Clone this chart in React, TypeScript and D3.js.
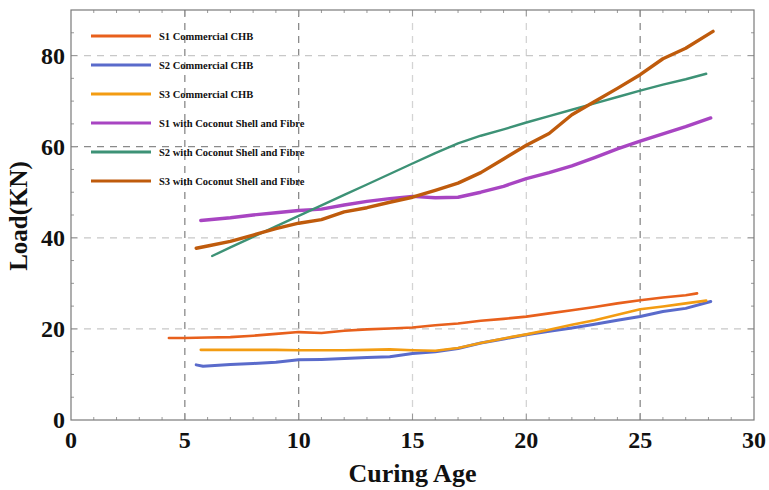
import React from 'react';
import * as d3 from 'd3';

// curing age (x) and load (KN) readings for each specimen
const s1cX = [4.3, 5, 6, 7, 8, 9, 10, 11, 12, 13, 14, 15, 16, 17, 18, 19, 20, 21, 22, 23, 24, 25, 26, 27, 27.5];
const s1cY = [18.0, 18.0, 18.1, 18.2, 18.5, 18.9, 19.3, 19.1, 19.6, 19.9, 20.1, 20.3, 20.8, 21.2, 21.8, 22.2, 22.7, 23.4, 24.1, 24.8, 25.6, 26.3, 26.9, 27.4, 27.8];

const s2cX = [5.5, 5.8, 7, 8, 9, 10, 11, 12, 13, 14, 15, 16, 17, 18, 19, 20, 21, 22, 23, 24, 25, 26, 27, 28.1];
const s2cY = [12.1, 11.8, 12.2, 12.4, 12.7, 13.2, 13.3, 13.5, 13.7, 13.9, 14.6, 15.0, 15.7, 16.9, 17.8, 18.7, 19.5, 20.2, 21.0, 21.9, 22.7, 23.8, 24.5, 26.0];

const s3cX = [5.7, 7, 8, 9, 10, 11, 12, 13, 14, 15, 16, 17, 18, 19, 20, 21, 22, 23, 24, 25, 26, 27, 27.9];
const s3cY = [15.4, 15.4, 15.4, 15.4, 15.3, 15.3, 15.3, 15.4, 15.5, 15.3, 15.2, 15.8, 16.9, 17.9, 18.8, 19.8, 20.9, 21.9, 23.1, 24.3, 24.9, 25.6, 26.2];

const s1fX = [5.7, 7, 8, 9, 10, 11, 12, 13, 14, 15, 16, 17, 18, 19, 20, 21, 22, 23, 24, 25, 26, 27, 28.1];
const s1fY = [43.8, 44.4, 45.0, 45.5, 46.0, 46.3, 47.2, 48.0, 48.6, 49.1, 48.8, 48.9, 50.0, 51.3, 53.0, 54.3, 55.8, 57.6, 59.5, 61.2, 62.8, 64.4, 66.3];

const s2fX = [6.2, 7, 8, 9, 10, 11, 12, 13, 14, 15, 16, 17, 18, 19, 20, 21, 22, 23, 24, 25, 26, 27, 27.9];
const s2fY = [36.0, 37.9, 40.2, 42.5, 44.8, 47.1, 49.4, 51.7, 54.0, 56.3, 58.6, 60.7, 62.4, 63.8, 65.3, 66.7, 68.1, 69.5, 70.9, 72.3, 73.6, 74.8, 76.0];

const s3fX = [5.5, 6, 7, 8, 9, 10, 11, 12, 13, 14, 15, 16, 17, 18, 19, 20, 21, 22, 23, 24, 25, 26, 27, 28.2];
const s3fY = [37.7, 38.2, 39.2, 40.6, 42.0, 43.2, 44.0, 45.7, 46.6, 47.8, 48.9, 50.4, 52.0, 54.3, 57.3, 60.3, 62.9, 67.0, 69.9, 72.8, 75.8, 79.3, 81.6, 85.3];

const seriesNames = [
  'S1 Commercial CHB',
  'S2 Commercial CHB',
  'S3 Commercial CHB',
  'S1 with Coconut Shell and Fibre',
  'S2 with Coconut Shell and Fibre',
  'S3 with Coconut Shell and Fibre',
];

const xTicks = [0, 5, 10, 15, 20, 25, 30];
const yTicks = [0, 20, 40, 60, 80];

const W = 769;
const H = 490;
const margin = { top: 10, right: 15, bottom: 70, left: 71 };
const font = '"Liberation Serif", "Times New Roman", serif';

export default function App() {
  const x = d3.scaleLinear().domain([0, 30]).range([margin.left, W - margin.right]);
  const y = d3.scaleLinear().domain([0, 90]).range([H - margin.bottom, margin.top]);

  const series = [
    { name: seriesNames[0], xs: s1cX, ys: s1cY, color: '#E8601C', width: 2.6 },
    { name: seriesNames[1], xs: s2cX, ys: s2cY, color: '#5A6BCB', width: 3 },
    { name: seriesNames[2], xs: s3cX, ys: s3cY, color: '#F39C12', width: 2.6 },
    { name: seriesNames[3], xs: s1fX, ys: s1fY, color: '#A845C2', width: 3.4 },
    { name: seriesNames[4], xs: s2fX, ys: s2fY, color: '#3D9276', width: 2.4 },
    { name: seriesNames[5], xs: s3fX, ys: s3fY, color: '#BF5B0C', width: 3.4 },
  ];

  const line = d3
    .line<[number, number]>()
    .x((d) => x(d[0]))
    .y((d) => y(d[1]));

  const x0 = margin.left;
  const x1 = W - margin.right;
  const y0 = H - margin.bottom;
  const y1 = margin.top;

  // grid: some lines darker than others, as in the original
  const darkX = [5, 10, 25];
  const darkY = [60];

  const xMinor = d3.range(1, 30);
  const yMinor = d3.range(5, 90, 5);

  return (
    <svg width={W} height={H} style={{ position: 'absolute', left: 0, top: 0, background: '#fff' }}>
      {/* grid lines */}
      {[5, 10, 15, 20, 25].map((v) => (
        <line key={'gx' + v} x1={x(v)} x2={x(v)} y1={y1} y2={y0}
          stroke={darkX.includes(v) ? '#8a8a8a' : '#d4d4d4'} strokeWidth={1.3} strokeDasharray="7,6" />
      ))}
      {[20, 40, 60, 80].map((v) => (
        <line key={'gy' + v} x1={x0} x2={x1} y1={y(v)} y2={y(v)}
          stroke={darkY.includes(v) ? '#8a8a8a' : '#c8c8c8'} strokeWidth={1.3} strokeDasharray="7,6" />
      ))}

      {/* ticks on all four sides, pointing inward */}
      {xMinor.map((v) => {
        const len = v % 5 === 0 ? 6 : 3;
        return (
          <g key={'tx' + v} stroke="#999" strokeWidth={1}>
            <line x1={x(v)} x2={x(v)} y1={y0} y2={y0 - len} />
            <line x1={x(v)} x2={x(v)} y1={y1} y2={y1 + len} />
          </g>
        );
      })}
      {yMinor.map((v) => {
        const len = v % 20 === 0 ? 6 : 3;
        return (
          <g key={'ty' + v} stroke="#999" strokeWidth={1}>
            <line x1={x0} x2={x0 + len} y1={y(v)} y2={y(v)} />
            <line x1={x1} x2={x1 - len} y1={y(v)} y2={y(v)} />
          </g>
        );
      })}

      {/* frame */}
      <rect x={x0} y={y1} width={x1 - x0} height={y0 - y1} fill="none" stroke="#7a7a7a" strokeWidth={1.2} />

      {/* data lines */}
      {series.map((s) => (
        <path key={s.name}
          d={line(s.xs.map((v, i) => [v, s.ys[i]] as [number, number])) || ''}
          fill="none" stroke={s.color} strokeWidth={s.width} strokeLinejoin="round" strokeLinecap="round" />
      ))}

      {/* legend */}
      {series.map((s, i) => (
        <g key={'lg' + i} transform={`translate(91,${36 + i * 29})`}>
          <line x1={0} x2={60} y1={0} y2={0} stroke={s.color} strokeWidth={3} />
          <text x={68} y={0} dy="0.35em" fontFamily={font} fontWeight="bold" fontSize={10.5} fill="#111">
            {s.name}
          </text>
        </g>
      ))}

      {/* tick labels */}
      {xTicks.map((v) => (
        <text key={'xl' + v} x={x(v)} y={y0 + 28} textAnchor="middle" fontFamily={font}
          fontWeight="bold" fontSize={24} fill="#111">{v}</text>
      ))}
      {yTicks.map((v) => (
        <text key={'yl' + v} x={x0 - 6} y={y(v)} dy="0.35em" textAnchor="end" fontFamily={font}
          fontWeight="bold" fontSize={24} fill="#111">{v}</text>
      ))}

      {/* axis titles */}
      <text x={(x0 + x1) / 2} y={482} textAnchor="middle" fontFamily={font} fontWeight="bold"
        fontSize={26} fill="#111">Curing Age</text>
      <text transform={`translate(27,216) rotate(-90)`} textAnchor="middle" fontFamily={font}
        fontWeight="bold" fontSize={25} fill="#111">Load(KN)</text>
    </svg>
  );
}
